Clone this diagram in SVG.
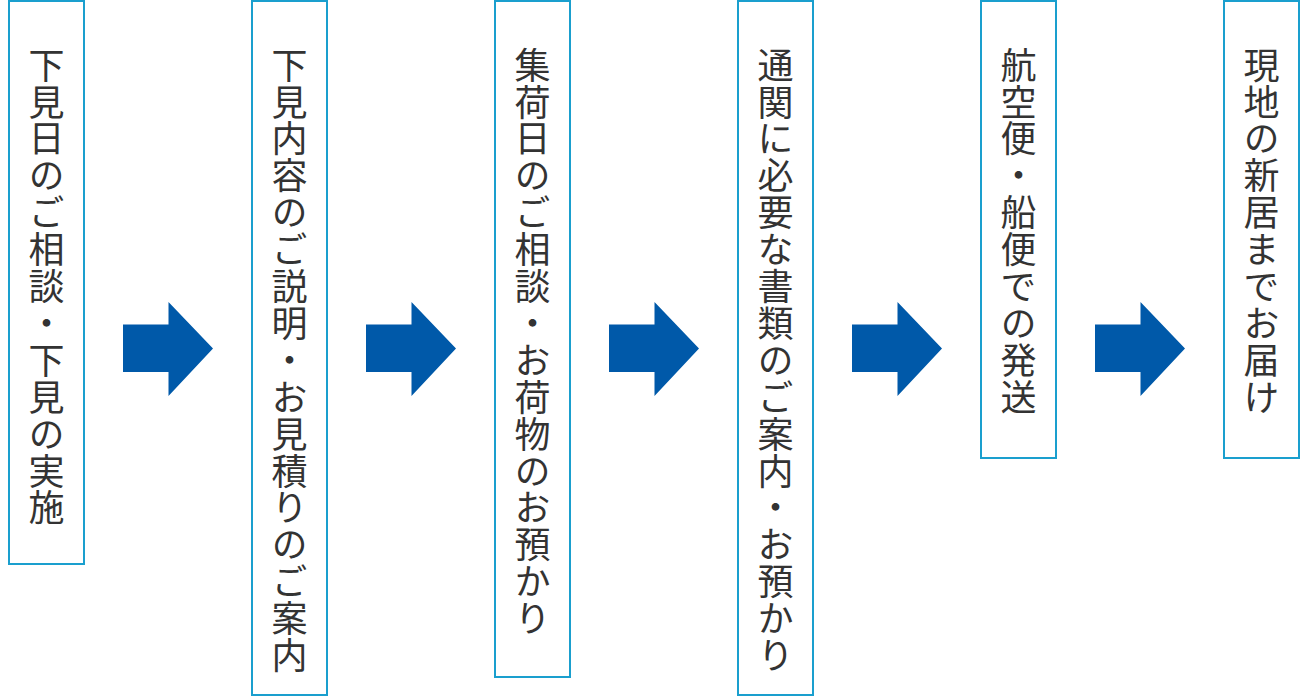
<svg xmlns="http://www.w3.org/2000/svg" width="1300" height="697" viewBox="0 0 1300 697">
<style>
.box{fill:#fff;stroke:#1a9fce;stroke-width:2}
.lbl{font-family:"Noto Sans CJK JP","Noto Sans",sans-serif;font-size:36px;fill:#333;writing-mode:vertical-rl;letter-spacing:0.9px}
.arr{fill:#0059a9}
</style>
<defs>
<path id="arrow" d="M0 22.5 H45.5 V0 L90 46.5 L45.5 94 V70 H0 Z"/>
</defs>
<rect width="1300" height="697" fill="#fff"/>
<g id="connectors">
<use href="#arrow" class="arr" x="123" y="302"/>
<use href="#arrow" class="arr" x="366" y="302"/>
<use href="#arrow" class="arr" x="609" y="302"/>
<use href="#arrow" class="arr" x="852" y="302"/>
<use href="#arrow" class="arr" x="1095" y="302"/>
</g>
<g id="step1">
<rect class="box" x="9" y="1" width="75" height="563"/>
<text class="lbl" x="46.5" y="47">下見日のご相談・下見の実施</text>
</g>
<g id="step2">
<rect class="box" x="252" y="1" width="75" height="694"/>
<text class="lbl" x="289.5" y="47">下見内容のご説明・お見積りのご案内</text>
</g>
<g id="step3">
<rect class="box" x="495" y="1" width="75" height="676"/>
<text class="lbl" x="532.5" y="47">集荷日のご相談・お荷物のお預かり</text>
</g>
<g id="step4">
<rect class="box" x="738" y="1" width="75" height="694"/>
<text class="lbl" x="775.5" y="47">通関に必要な書類のご案内・お預かり</text>
</g>
<g id="step5">
<rect class="box" x="981" y="1" width="75" height="457"/>
<text class="lbl" x="1018.5" y="47">航空便・船便での発送</text>
</g>
<g id="step6">
<rect class="box" x="1224" y="1" width="75" height="457"/>
<text class="lbl" x="1261.5" y="47">現地の新居までお届け</text>
</g>
</svg>
